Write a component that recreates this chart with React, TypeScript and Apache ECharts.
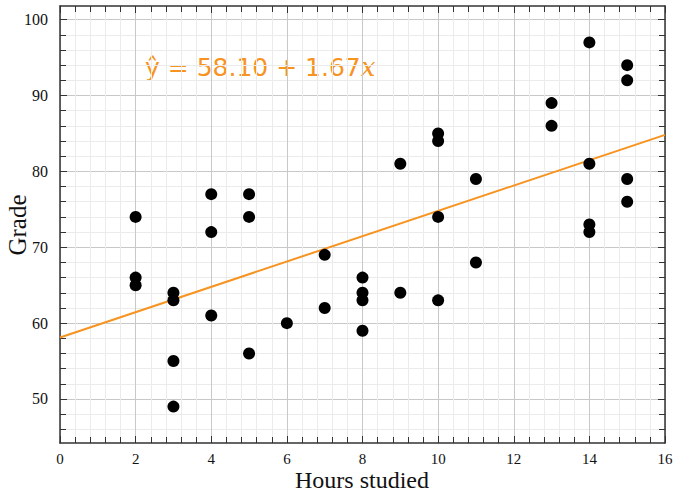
import React, { useEffect, useRef } from "react";
import * as echarts from "echarts";

const hours = [2, 2, 2, 3, 3, 3, 3, 4, 4, 4, 5, 5, 5, 6, 7, 7, 8, 8, 8, 8, 9, 9, 10, 10, 10, 10, 11, 11, 13, 13, 14, 14, 14, 14, 15, 15, 15, 15];
const grades = [74, 66, 65, 64, 63, 55, 49, 77, 72, 61, 77, 74, 56, 60, 69, 62, 66, 64, 63, 59, 81, 64, 85, 84, 74, 63, 79, 68, 89, 86, 97, 81, 73, 72, 94, 92, 79, 76];
const intercept = 58.1;
const slope = 1.67;
const xMin = 0;
const xMax = 16;
const yMin = 44.2;
const yMax = 101.8;
const yMajorTicks = [50, 60, 70, 80, 90, 100];
const yMinorTicks = [46, 48, 52, 54, 56, 58, 62, 64, 66, 68, 72, 74, 76, 78, 82, 84, 86, 88, 92, 94, 96, 98];
const xTitle = "Hours studied";
const yTitle = "Grade";

const ORANGE = "#F7931E";
const SERIF = "Liberation Serif";
const MAJOR_GRID = "#c8c8c8";
const MINOR_GRID = "#ebebeb";
const AXIS = "#333";

export default function App() {
  const ref = useRef<HTMLDivElement>(null);
  useEffect(() => {
    document.body.style.margin = "0";
    const chart = echarts.init(ref.current!, null, { renderer: "svg" });
    const points = hours.map((h, i) => [h, grades[i]]);
    const fit = [
      [xMin, intercept + slope * xMin],
      [xMax, intercept + slope * xMax],
    ];
    const baseY = { type: "value", min: yMin, max: yMax, scale: true };
    chart.setOption({
      animation: false,
      backgroundColor: "#fff",
      grid: { left: 60, right: 13, top: 6, bottom: 48, outerBoundsMode: "none" },
      xAxis: [
        {
          type: "value",
          position: "bottom",
          min: xMin,
          max: xMax,
          interval: 2,
          axisLine: { show: true, lineStyle: { color: AXIS, width: 1.5 } },
          axisTick: { show: true, inside: true, length: 7, lineStyle: { color: AXIS } },
          minorTick: { show: true, splitNumber: 5, length: 6, lineStyle: { color: AXIS } },
          axisLabel: { fontFamily: SERIF, fontSize: 15, lineHeight: 15, color: "#111", margin: 8 },
          splitLine: { show: true, lineStyle: { color: MAJOR_GRID, width: 1 } },
          minorSplitLine: { show: true, lineStyle: { color: MINOR_GRID, width: 1 } },
        },
        {
          type: "value",
          position: "top",
          min: xMin,
          max: xMax,
          interval: 2,
          axisLine: { show: true, lineStyle: { color: AXIS, width: 1.5 } },
          axisTick: { show: true, inside: true, length: 7, lineStyle: { color: AXIS } },
          minorTick: { show: true, splitNumber: 5, length: 6, lineStyle: { color: AXIS } },
          axisLabel: { show: false },
          splitLine: { show: false },
        },
      ],
      yAxis: [
        {
          ...baseY,
          position: "left",
          axisLine: { show: false },
          axisTick: { show: true, inside: true, length: 6, customValues: yMinorTicks, lineStyle: { color: AXIS } },
          axisLabel: { show: false },
          splitLine: { show: true, lineStyle: { color: MINOR_GRID, width: 1 } },
        },
        {
          ...baseY,
          position: "left",
          axisLine: { show: true, lineStyle: { color: AXIS, width: 1.5 } },
          axisTick: { show: true, inside: true, length: 7, customValues: yMajorTicks, lineStyle: { color: AXIS } },
          axisLabel: { fontFamily: SERIF, fontSize: 16, color: "#111", margin: 12, customValues: yMajorTicks },
          splitLine: { show: true, lineStyle: { color: MAJOR_GRID, width: 1 } },
        },
        {
          ...baseY,
          position: "right",
          axisLine: { show: true, lineStyle: { color: AXIS, width: 1.5 } },
          axisTick: { show: true, inside: true, length: 7, customValues: yMajorTicks, lineStyle: { color: AXIS } },
          axisLabel: { show: false },
          splitLine: { show: false },
        },
        {
          ...baseY,
          position: "right",
          axisLine: { show: false },
          axisTick: { show: true, inside: true, length: 6, customValues: yMinorTicks, lineStyle: { color: AXIS } },
          axisLabel: { show: false },
          splitLine: { show: false },
        },
      ],
      series: [
        {
          type: "line",
          xAxisIndex: 0,
          yAxisIndex: 1,
          data: fit,
          showSymbol: false,
          symbol: "none",
          lineStyle: { color: ORANGE, width: 2 },
          z: 2,
        },
        {
          type: "scatter",
          xAxisIndex: 0,
          yAxisIndex: 1,
          data: points,
          symbolSize: 12,
          itemStyle: { color: "#000", opacity: 1 },
          z: 3,
        },
      ],
      graphic: [
        {
          type: "text",
          left: 145,
          top: 54,
          style: {
            text: "{n|ŷ = 58.10 + 1.67}{i|x}",
            rich: {
              n: { fontFamily: "DejaVu Sans", fontSize: 25, fill: ORANGE },
              i: { fontFamily: "DejaVu Serif", fontStyle: "italic", fontSize: 26, fill: ORANGE },
            },
          },
        },
        {
          type: "text",
          x: 362,
          y: 491,
          style: {
            text: xTitle,
            fontFamily: SERIF,
            fontSize: 24,
            lineHeight: 23,
            fill: "#111",
            align: "center",
            verticalAlign: "bottom",
          },
        },
        {
          type: "text",
          x: 17,
          y: 225,
          rotation: Math.PI / 2,
          style: {
            text: yTitle,
            fontFamily: SERIF,
            fontSize: 25,
            fill: "#111",
            align: "center",
            verticalAlign: "middle",
          },
        },
      ],
    });
    return () => chart.dispose();
  }, []);
  return <div ref={ref} style={{ width: 678, height: 491 }} />;
}
